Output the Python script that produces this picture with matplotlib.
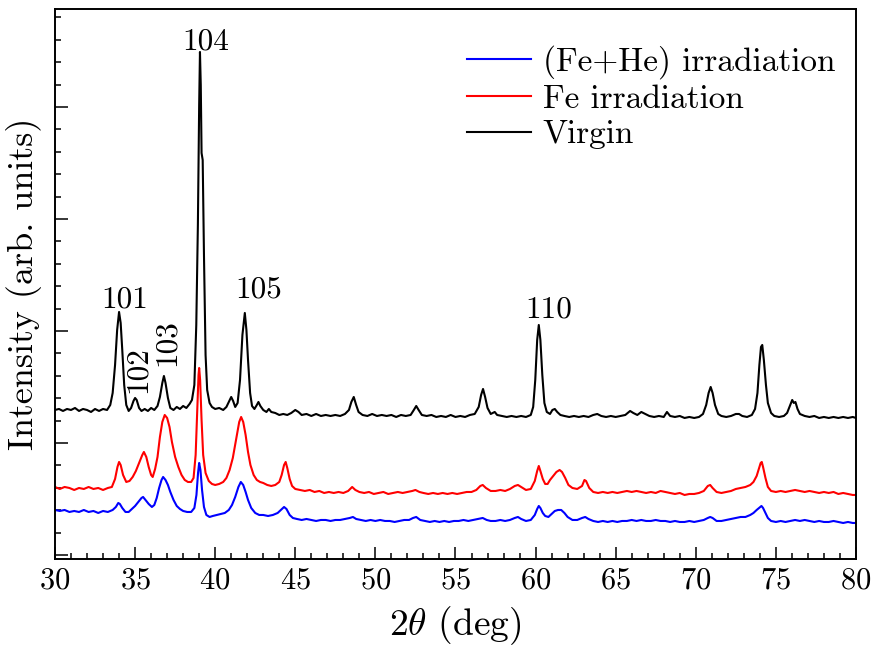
import matplotlib
matplotlib.use("Agg")
import matplotlib.pyplot as plt
from matplotlib.ticker import MultipleLocator, NullFormatter

plt.rcParams['font.family'] = ['cmr10', 'DejaVu Serif']
plt.rcParams['mathtext.fontset'] = 'cm'
plt.rcParams['axes.formatter.use_mathtext'] = True

# ---- data: (2theta [deg], intensity [arb. units]) ----
virgin_pts = [
    (30.0, 145), (30.25, 146), (30.5, 144), (30.75, 146), (31.0, 145), (31.25, 147), (31.5, 144),
    (31.75, 146), (32.0, 145), (32.25, 143), (32.5, 146), (32.75, 144), (33.0, 146), (33.25, 145),
    (33.45, 150), (33.6, 162), (33.75, 190), (33.88, 225), (34.0, 243), (34.1, 232), (34.2, 205),
    (34.32, 170), (34.45, 150), (34.6, 144), (34.75, 147), (34.9, 154), (35.0, 157), (35.1, 155),
    (35.25, 147), (35.4, 144), (35.6, 146), (35.8, 144), (36.0, 147), (36.2, 145), (36.4, 149),
    (36.55, 158), (36.7, 172), (36.8, 179), (36.9, 172), (37.05, 157), (37.2, 147), (37.4, 145),
    (37.6, 148), (37.8, 146), (38.0, 149), (38.2, 147), (38.4, 151), (38.55, 155), (38.7, 170),
    (38.82, 230), (38.92, 330), (39.0, 450), (39.05, 503), (39.1, 470), (39.15, 402), (39.22, 395),
    (39.3, 300), (39.4, 200), (39.5, 165), (39.65, 152), (39.8, 148), (40.0, 146), (40.25, 147),
    (40.5, 145), (40.7, 148), (40.85, 153), (41.0, 158), (41.12, 154), (41.25, 148), (41.4, 152),
    (41.55, 175), (41.7, 220), (41.85, 242), (41.95, 225), (42.05, 195), (42.18, 162), (42.3, 149),
    (42.45, 146), (42.6, 150), (42.7, 153), (42.82, 149), (43.0, 145), (43.2, 143), (43.35, 146),
    (43.5, 143), (43.75, 142), (44.0, 140), (44.25, 141), (44.5, 140), (44.75, 142), (45.0, 145),
    (45.2, 143), (45.4, 140), (45.7, 141), (46.0, 139), (46.3, 141), (46.6, 139), (46.9, 140),
    (47.2, 139), (47.5, 140), (47.8, 139), (48.1, 141), (48.35, 145), (48.5, 153), (48.65, 158),
    (48.8, 150), (48.95, 143), (49.2, 140), (49.5, 139), (49.8, 141), (50.1, 139), (50.4, 140),
    (50.7, 139), (51.0, 140), (51.3, 138), (51.6, 140), (51.9, 139), (52.2, 140), (52.4, 145),
    (52.55, 149), (52.7, 145), (52.9, 140), (53.2, 139), (53.5, 140), (53.8, 138), (54.1, 139),
    (54.4, 138), (54.7, 140), (55.0, 138), (55.3, 139), (55.6, 138), (55.9, 140), (56.2, 141),
    (56.45, 148), (56.6, 160), (56.72, 166), (56.85, 158), (57.0, 147), (57.2, 141), (57.45, 143),
    (57.6, 140), (57.9, 139), (58.2, 138), (58.5, 139), (58.8, 138), (59.1, 139), (59.4, 138),
    (59.7, 140), (59.85, 148), (59.98, 175), (60.1, 215), (60.2, 230), (60.3, 215), (60.42, 180),
    (60.55, 152), (60.7, 143), (60.9, 141), (61.05, 145), (61.2, 146), (61.35, 143), (61.55, 140),
    (61.8, 139), (62.1, 138), (62.4, 139), (62.7, 138), (63.0, 139), (63.3, 138), (63.6, 140),
    (63.85, 141), (64.1, 139), (64.4, 138), (64.7, 139), (65.0, 138), (65.3, 139), (65.6, 140),
    (65.9, 144), (66.1, 142), (66.35, 140), (66.6, 143), (66.85, 141), (67.1, 139), (67.4, 138),
    (67.7, 139), (68.0, 138), (68.2, 143), (68.4, 139), (68.7, 138), (69.0, 139), (69.3, 137),
    (69.6, 138), (69.9, 137), (70.2, 138), (70.45, 141), (70.65, 150), (70.8, 162), (70.93, 168),
    (71.05, 162), (71.2, 150), (71.4, 141), (71.6, 139), (71.9, 138), (72.2, 139), (72.5, 141),
    (72.7, 141), (72.9, 139), (73.2, 138), (73.5, 140), (73.7, 146), (73.85, 162), (73.97, 190),
    (74.07, 208), (74.15, 210), (74.25, 195), (74.38, 170), (74.5, 152), (74.7, 142), (74.9, 139),
    (75.2, 138), (75.5, 139), (75.7, 142), (75.9, 150), (76.02, 155), (76.12, 152), (76.22, 153),
    (76.35, 146), (76.5, 141), (76.8, 139), (77.1, 138), (77.4, 139), (77.7, 137), (78.0, 138),
    (78.3, 137), (78.6, 138), (78.9, 137), (79.2, 138), (79.5, 137), (79.8, 138), (80.0, 137)]

fe_pts = [
    (30.0, 68), (30.3, 66), (30.6, 68), (30.9, 67), (31.2, 65), (31.5, 67), (31.8, 66), (32.1, 68),
    (32.4, 66), (32.7, 67), (33.0, 65), (33.3, 67), (33.55, 68), (33.75, 76), (33.9, 88), (34.0, 93),
    (34.1, 90), (34.25, 80), (34.45, 73), (34.65, 74), (34.85, 78), (35.05, 84), (35.25, 92),
    (35.45, 100), (35.55, 103), (35.7, 98), (35.85, 88), (36.0, 80), (36.1, 78), (36.25, 86),
    (36.4, 98), (36.55, 118), (36.7, 133), (36.85, 140), (37.0, 137), (37.15, 128), (37.3, 113),
    (37.5, 98), (37.7, 88), (37.9, 80), (38.1, 75), (38.3, 73), (38.5, 73), (38.65, 77), (38.78, 100),
    (38.88, 145), (38.96, 180), (39.0, 187), (39.06, 175), (39.15, 135), (39.25, 100), (39.4, 82),
    (39.6, 74), (39.8, 71), (40.0, 70), (40.25, 71), (40.5, 73), (40.7, 77), (40.9, 85), (41.1, 97),
    (41.3, 115), (41.5, 133), (41.62, 138), (41.75, 133), (41.9, 120), (42.05, 103), (42.2, 90),
    (42.4, 80), (42.6, 75), (42.8, 73), (43.0, 72), (43.25, 70), (43.5, 69), (43.75, 70), (44.0, 73),
    (44.15, 80), (44.3, 90), (44.4, 93), (44.5, 87), (44.65, 76), (44.8, 69), (45.0, 66), (45.3, 65),
    (45.6, 64), (45.9, 65), (46.2, 63), (46.5, 64), (46.8, 62), (47.1, 63), (47.4, 62), (47.7, 63),
    (48.0, 62), (48.3, 64), (48.55, 68), (48.75, 65), (49.0, 63), (49.3, 62), (49.6, 63), (49.9, 61),
    (50.2, 62), (50.5, 63), (50.8, 61), (51.1, 62), (51.4, 63), (51.7, 62), (52.0, 63), (52.3, 64),
    (52.5, 65), (52.75, 63), (53.0, 62), (53.3, 61), (53.6, 62), (53.9, 61), (54.2, 62), (54.5, 61),
    (54.8, 62), (55.1, 61), (55.4, 62), (55.7, 63), (56.0, 63), (56.3, 65), (56.55, 69), (56.7, 70),
    (56.9, 67), (57.2, 64), (57.5, 64), (57.8, 65), (58.1, 64), (58.4, 66), (58.7, 69), (58.9, 70),
    (59.1, 68), (59.4, 65), (59.7, 66), (59.95, 74), (60.1, 84), (60.2, 89), (60.3, 84), (60.45, 76),
    (60.6, 71), (60.75, 71), (60.9, 75), (61.1, 79), (61.3, 83), (61.5, 85), (61.65, 83), (61.85, 77),
    (62.05, 70), (62.3, 67), (62.6, 66), (62.9, 69), (63.05, 75), (63.15, 74), (63.35, 67),
    (63.6, 63), (63.9, 62), (64.2, 63), (64.5, 62), (64.8, 63), (65.1, 62), (65.4, 63), (65.7, 64),
    (66.0, 63), (66.3, 64), (66.6, 63), (66.9, 62), (67.2, 63), (67.5, 62), (67.8, 64), (68.1, 63),
    (68.4, 62), (68.7, 61), (69.0, 62), (69.3, 60), (69.6, 61), (69.9, 61), (70.2, 62), (70.5, 64),
    (70.75, 69), (70.9, 70), (71.05, 67), (71.3, 63), (71.6, 62), (71.9, 63), (72.2, 64), (72.5, 66),
    (72.8, 67), (73.1, 68), (73.4, 70), (73.6, 73), (73.8, 79), (73.95, 87), (74.05, 92), (74.12, 93),
    (74.2, 88), (74.35, 77), (74.5, 68), (74.7, 64), (75.0, 63), (75.3, 64), (75.6, 63), (75.9, 64),
    (76.2, 65), (76.5, 64), (76.8, 63), (77.1, 64), (77.4, 63), (77.7, 62), (78.0, 63), (78.3, 62),
    (78.6, 63), (78.9, 61), (79.2, 62), (79.5, 61), (79.8, 60), (80.0, 60)]

fehe_pts = [
    (30.0, 45), (30.3, 44), (30.6, 45), (30.9, 43), (31.2, 44), (31.5, 43), (31.8, 45), (32.1, 43),
    (32.4, 44), (32.7, 42), (33.0, 44), (33.3, 43), (33.6, 45), (33.8, 48), (33.95, 52), (34.05, 51),
    (34.2, 47), (34.4, 43), (34.6, 43), (34.8, 46), (35.0, 49), (35.2, 53), (35.4, 57), (35.5, 58),
    (35.65, 55), (35.85, 51), (36.05, 48), (36.2, 50), (36.35, 57), (36.5, 67), (36.65, 75),
    (36.75, 78), (36.9, 75), (37.05, 70), (37.2, 63), (37.4, 55), (37.6, 49), (37.8, 46), (38.0, 44),
    (38.25, 43), (38.5, 43), (38.7, 47), (38.83, 60), (38.93, 82), (39.0, 92), (39.08, 85),
    (39.18, 65), (39.3, 48), (39.45, 40), (39.65, 38), (39.85, 39), (40.1, 40), (40.35, 41),
    (40.6, 42), (40.85, 45), (41.05, 50), (41.25, 58), (41.45, 68), (41.6, 73), (41.75, 70),
    (41.9, 63), (42.05, 55), (42.25, 47), (42.5, 42), (42.75, 40), (43.0, 40), (43.3, 39), (43.6, 40),
    (43.9, 42), (44.1, 45), (44.3, 48), (44.45, 46), (44.65, 40), (44.85, 37), (45.1, 36), (45.4, 35),
    (45.7, 36), (46.0, 35), (46.3, 34), (46.6, 35), (46.9, 35), (47.2, 34), (47.5, 35), (47.8, 35),
    (48.1, 36), (48.4, 37), (48.6, 38), (48.8, 36), (49.1, 35), (49.4, 34), (49.7, 35), (50.0, 34),
    (50.3, 35), (50.6, 34), (50.9, 34), (51.2, 33), (51.5, 34), (51.8, 35), (52.1, 35), (52.35, 37),
    (52.55, 38), (52.8, 35), (53.1, 34), (53.4, 33), (53.7, 34), (54.0, 33), (54.3, 34), (54.6, 33),
    (54.9, 34), (55.2, 34), (55.5, 35), (55.8, 34), (56.1, 35), (56.4, 36), (56.7, 37), (56.95, 35),
    (57.2, 34), (57.5, 34), (57.8, 35), (58.1, 34), (58.4, 35), (58.7, 37), (58.9, 38), (59.1, 36),
    (59.4, 34), (59.7, 35), (59.95, 40), (60.1, 46), (60.2, 49), (60.3, 47), (60.45, 42), (60.6, 39),
    (60.8, 38), (61.0, 41), (61.2, 44), (61.4, 45), (61.6, 45), (61.8, 42), (62.0, 38), (62.3, 35),
    (62.6, 35), (62.9, 37), (63.1, 38), (63.3, 36), (63.6, 34), (63.9, 33), (64.2, 34), (64.5, 33),
    (64.8, 34), (65.1, 33), (65.4, 34), (65.7, 34), (66.0, 35), (66.3, 34), (66.6, 35), (66.9, 34),
    (67.2, 34), (67.5, 35), (67.8, 34), (68.1, 34), (68.4, 33), (68.7, 34), (69.0, 33), (69.3, 33),
    (69.6, 34), (69.9, 33), (70.2, 34), (70.5, 35), (70.75, 37), (70.9, 38), (71.05, 37), (71.3, 34),
    (71.6, 34), (71.9, 35), (72.2, 36), (72.5, 37), (72.8, 38), (73.1, 38), (73.4, 40), (73.6, 42),
    (73.8, 45), (73.95, 47), (74.1, 49), (74.2, 47), (74.35, 42), (74.5, 37), (74.7, 34), (75.0, 33),
    (75.3, 34), (75.6, 33), (75.9, 34), (76.2, 35), (76.5, 34), (76.8, 35), (77.1, 34), (77.4, 33),
    (77.7, 34), (78.0, 33), (78.3, 33), (78.6, 34), (78.9, 33), (79.2, 32), (79.5, 33), (79.8, 32),
    (80.0, 32)]

series_labels = ['(Fe+He) irradiation', 'Fe irradiation', 'Virgin']
series_colors = ['#0000ff', '#ff0000', '#000000']

peak_labels = ['101', '102', '103', '104', '105', '110']
peak_label_x = [34.37, 35.15, 37.0, 39.43, 42.7, 60.84]
peak_label_y = [247, 185, 212, 505, 257, 237]
peak_label_rot = [0, 90, 90, 0, 0, 0]

xticks = [30, 35, 40, 45, 50, 55, 60, 65, 70, 75, 80]

# ---- figure ----
fig = plt.figure(figsize=(8.84, 6.55), dpi=100)
ax = fig.add_axes([0.0622, 0.1466, 0.9061, 0.8397])

vx, vy = zip(*virgin_pts)
fx, fy = zip(*fe_pts)
hx, hy = zip(*fehe_pts)
lb, = ax.plot(vx, vy, color=series_colors[2], lw=1.5, label=series_labels[2])
lr, = ax.plot(fx, fy, color=series_colors[1], lw=1.5, label=series_labels[1])
lbl, = ax.plot(hx, hy, color=series_colors[0], lw=1.5, label=series_labels[0])

for t, x, y, r in zip(peak_labels, peak_label_x, peak_label_y, peak_label_rot):
    if r == 0:
        ax.text(x, y, t, ha='center', va='baseline', fontsize=22.5)
    else:
        ax.text(x, y, t, ha='center', va='center', rotation=90, fontsize=22.5)

ax.set_xlim(30, 80)
ax.set_ylim(-4, 546)
ax.set_xticks(xticks)
ax.xaxis.set_minor_locator(MultipleLocator(1))
ax.yaxis.set_major_locator(MultipleLocator(112))
ax.yaxis.set_minor_locator(MultipleLocator(22.4))
ax.yaxis.set_major_formatter(NullFormatter())
ax.tick_params(axis='both', which='both', direction='in', top=False, right=False)
ax.tick_params(axis='both', which='major', length=9, width=1.1, labelsize=22, pad=6)
ax.tick_params(axis='both', which='minor', length=4.5, width=1.1)
for s in ax.spines.values():
    s.set_linewidth(1.4)

ax.set_xlabel(r'$2\theta$ (deg)', fontsize=27, labelpad=7)
ax.set_ylabel('Intensity (arb. units)', fontsize=26, labelpad=3)

ax.legend(handles=[lbl, lr, lb], loc='upper right', bbox_to_anchor=(0.974, 0.935),
          frameon=False, fontsize=24, handlelength=1.9, handletextpad=0.36,
          labelspacing=0.18, borderpad=0, borderaxespad=0)

fig.savefig('out.png', dpi=100)
